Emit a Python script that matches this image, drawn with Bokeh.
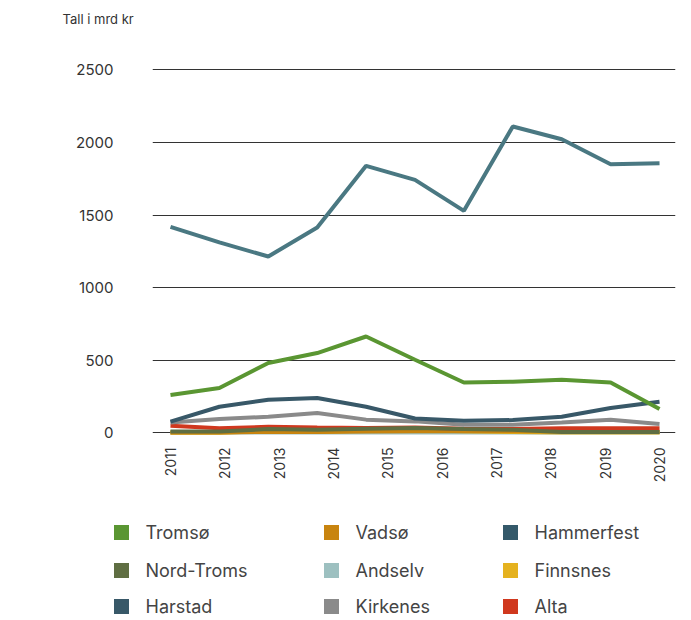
from bokeh.plotting import figure
from bokeh.models import Range1d, FixedTicker, ColumnDataSource
from bokeh.layouts import column
from bokeh.core.properties import value
from bokeh.embed import file_html
from bokeh.resources import INLINE

# ---- data ----
year_labels = ["2011", "2012", "2013", "2014", "2015", "2016", "2017", "2018", "2019", "2020"]
point_index = list(range(11))

hammerfest = [1419, 1311, 1214, 1414, 1839, 1742, 1529, 2110, 2022, 1850, 1857]
tromso = [260, 308, 480, 549, 663, 503, 346, 351, 365, 346, 163]
harstad = [76, 179, 227, 239, 179, 98, 83, 87, 110, 170, 213]
kirkenes = [71, 94, 110, 136, 90, 78, 55, 55, 71, 90, 60]
alta = [48, 30, 41, 35, 32, 35, 28, 25, 30, 30, 30]
nord_troms = [8, 8, 25, 20, 28, 32, 25, 20, 5, 5, 5]
finnsnes = [0, 0, 12, 5, 15, 18, 10, 5, 2, 2, 2]
vadso = [2, 2, 5, 5, 8, 10, 10, 10, 8, 5, 5]
andselv = [1, 1, 1, 1, 1, 1, 1, 1, 1, 1, 1]

y_ticks = [0, 500, 1000, 1500, 2000, 2500]
y_caption = ["Tall i mrd kr"]

legend_names = ["Tromsø", "Vadsø", "Hammerfest", "Nord-Troms", "Andselv", "Finnsnes",
                "Harstad", "Kirkenes", "Alta"]
legend_colors = ["#5a9632", "#c8840f", "#34596a", "#5f6e42", "#9dc0c0", "#e5b21f",
                 "#385868", "#8a8a8a", "#d0381e"]

FONT = "Inter"
TXT = "#333333"
W = 683


def blank_fig(h):
    f = figure(width=W, height=h, output_backend="svg", toolbar_location=None,
               x_range=Range1d(0, W), y_range=Range1d(h, 0),
               min_border_left=0, min_border_right=0, min_border_top=0, min_border_bottom=0)
    f.axis.visible = False
    f.grid.visible = False
    f.outline_line_color = None
    return f


# ---- header (axis unit caption) ----
HH = 30
hd = blank_fig(HH)
hd.text(x=[62], y=[18], text=y_caption, text_font=value(FONT), text_font_size="13px",
        text_color=TXT, text_align="left", text_baseline="middle")

# ---- chart ----
# labels at 0,10,...,90 ; the 11 points spread evenly across the same span
LBL_STEP = 10
PT_STEP = 9
xs = [i * PT_STEP for i in point_index]

p = figure(width=W, height=470, output_backend="svg", toolbar_location=None,
           x_range=Range1d(-3.31, 92.94), y_range=Range1d(-40, 2620),
           min_border_left=152, min_border_right=W - 675, min_border_top=52 - HH,
           min_border_bottom=62)
p.outline_line_color = None

series = [
    (andselv, "#9dc0c0"),
    (finnsnes, "#e5b21f"),
    (vadso, "#c8840f"),
    (alta, "#d0381e"),
    (nord_troms, "#5f6e42"),
    (kirkenes, "#8a8a8a"),
    (harstad, "#385868"),
    (tromso, "#5a9632"),
    (hammerfest, "#4a7882"),
]
for vals, col in series:
    p.line(xs, vals, line_color=col, line_width=4)

# y axis
p.yaxis.ticker = FixedTicker(ticks=y_ticks)
p.yaxis.axis_line_color = None
p.yaxis.major_tick_line_color = None
p.yaxis.minor_tick_line_color = None
p.yaxis.major_tick_in = 0
p.yaxis.major_tick_out = 0
p.yaxis.major_label_standoff = 39
p.yaxis.major_label_text_font = FONT
p.yaxis.major_label_text_font_size = "15px"
p.yaxis.major_label_text_color = TXT

# x axis
x_ticks = [j * LBL_STEP for j in range(len(year_labels))]
p.xaxis.ticker = FixedTicker(ticks=x_ticks)
p.xaxis.major_label_overrides = {t: l for t, l in zip(x_ticks, year_labels)}
p.xaxis.major_label_orientation = 3.14159265 / 2
p.xaxis.axis_line_color = None
p.xaxis.major_tick_line_color = None
p.xaxis.minor_tick_line_color = None
p.xaxis.major_tick_in = 0
p.xaxis.major_tick_out = 0
p.xaxis.major_label_standoff = 9
p.xaxis.major_label_text_font = FONT
p.xaxis.major_label_text_font_size = "14px"
p.xaxis.major_label_text_color = TXT

p.xgrid.grid_line_color = None
p.ygrid.ticker = FixedTicker(ticks=y_ticks)
p.ygrid.grid_line_color = "#333333"
p.ygrid.grid_line_width = 1

# ---- legend figure ----
LH = 120
lg = blank_fig(LH)

for fig in (hd, p, lg):
    try:
        fig.frame_align = False
    except Exception:
        pass

col_x = [121, 331, 510]
row_y = [32, 70, 106]
sw_x, sw_y, tx_x = [], [], []
for k in range(len(legend_names)):
    r, c = divmod(k, 3)
    sw_x.append(col_x[c])
    sw_y.append(row_y[r])
    tx_x.append(col_x[c] + 24)
src = ColumnDataSource(dict(sx=sw_x, sy=sw_y, tx=tx_x, name=legend_names, color=legend_colors))
lg.scatter("sx", "sy", source=src, marker="square", size=15, fill_color="color", line_color=None)
lg.text("tx", "sy", text="name", source=src, text_font=value(FONT), text_font_size="18px",
        text_baseline="middle", text_align="left", text_color="#444444")

layout = column(hd, p, lg, spacing=0)
open("out.html", "w").write(file_html(layout, INLINE))
